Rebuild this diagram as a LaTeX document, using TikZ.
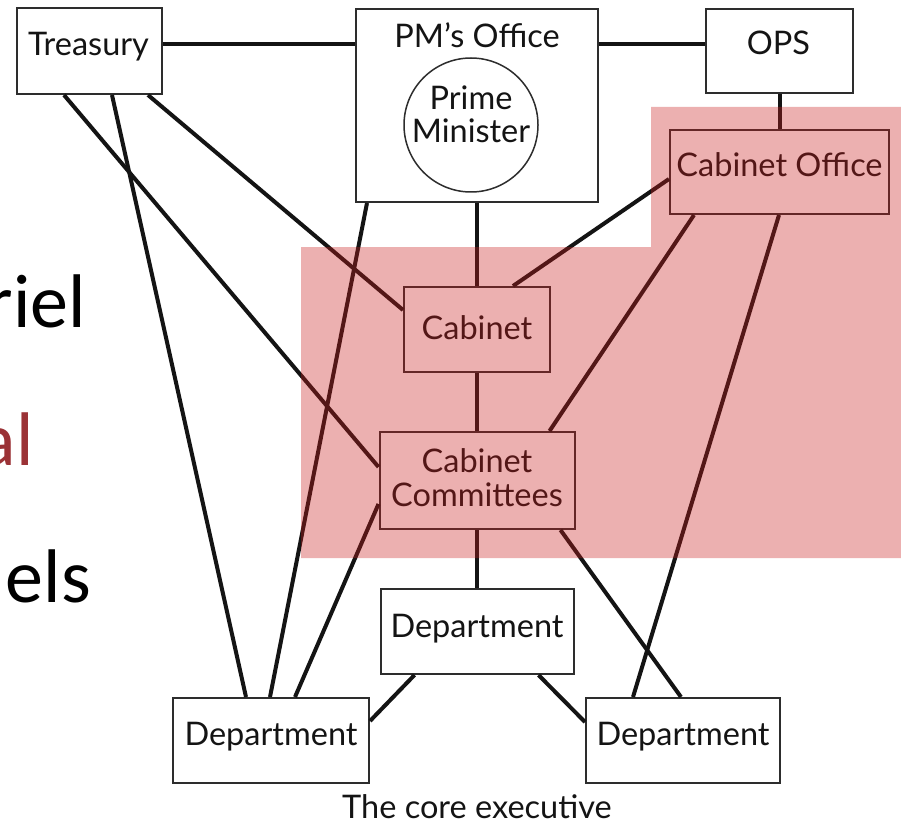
\documentclass[tikz,border=0pt]{standalone}
\usepackage{fontspec}
\setmainfont{Lato}
\newfontfamily\fragfont{Carlito}
\usetikzlibrary{calc}
\definecolor{inkc}{RGB}{20,20,20}
\definecolor{boxline}{RGB}{45,45,45}
\definecolor{hlred}{RGB}{203,29,29}
\definecolor{slidered}{RGB}{155,50,54}
\tikzset{
  box/.style={draw=boxline, line width=2pt, fill=white, inner sep=0pt},
  lbl/.style={text=inkc, inner sep=0pt, anchor=base, font=\fontsize{32.5}{38}\selectfont},
  conn/.style={draw=black!92, line width=4pt},
  frag/.style={inner sep=0pt, anchor=base east, font=\fragfont\fontsize{76}{80}\selectfont}
}
\begin{document}
\begin{tikzpicture}[x=1pt,y=-1pt]
\useasboundingbox (0,0) rectangle (901,826);
\fill[white] (0,0) rectangle (901,826);
% slide text fragments (cut off at the left edge)
\begin{scope}
\clip (0,0) rectangle (901,826);
\node[frag, text=black] (f1) at (86,327) {riel};
\node[frag, text=slidered] (f2) at (34,465) {al};
\node[frag, text=black] (f3) at (91,602) {els};
\end{scope}
% boxes
\node[box, minimum width=145pt, minimum height=86pt] (treasury) at (89.5,51) {};
\node[box, minimum width=242pt, minimum height=193pt] (pmo) at (477,105.5) {};
\node[box, minimum width=147pt, minimum height=84pt] (ops) at (779.5,51) {};
\node[draw=boxline, line width=1.5pt, circle, fill=white, minimum size=134pt, inner sep=0pt] (pm) at (471,125) {};
\node[box, minimum width=219pt, minimum height=84pt] (cabo) at (779.5,172) {};
\node[box, minimum width=146pt, minimum height=85pt] (cab) at (477,329.5) {};
\node[box, minimum width=195pt, minimum height=97pt] (cc) at (477,480.5) {};
\node[box, minimum width=193pt, minimum height=85pt] (dm) at (477,631.5) {};
\node[box, minimum width=196pt, minimum height=85pt] (dl) at (271,740.5) {};
\node[box, minimum width=194pt, minimum height=85pt] (dr) at (683,740.5) {};
% labels
\node[lbl] (tTreasury) at ($(treasury.center)+(-1,5)$) {Treasury};
\node[lbl] (tPMO) at ($(pmo.center)+(0,-57.5)$) {PM’s Office};
\node[lbl] (tPM) at ($(pm.center)+(0,-15)$) {Prime};
\node[lbl] (tPM2) at ($(pm.center)+(0,18)$) {Minister};
\node[lbl] (tOPS) at ($(ops.center)+(-1,4)$) {OPS};
\node[lbl] (tCabo) at ($(cabo.center)+(0,5)$) {Cabinet Office};
\node[lbl] (tCab) at ($(cab.center)+(0,9.5)$) {Cabinet};
\node[lbl] (tCC1) at ($(cc.center)+(0,-8.5)$) {Cabinet};
\node[lbl] (tCC2) at ($(cc.center)+(0,25.5)$) {Committees};
\node[lbl] (tDM) at ($(dm.center)+(0,5.5)$) {Department};
\node[lbl] (tDL) at ($(dl.center)+(0,4.5)$) {Department};
\node[lbl] (tDR) at ($(dr.center)+(0,4.5)$) {Department};
\node[lbl] (caption) at (477,818) {The core executive};
% connectors
\draw[conn] ($(treasury.north east)+(0,37)$) -- ($(pmo.north west)+(0,36)$);
\draw[conn] ($(pmo.north east)+(0,36)$) -- ($(ops.north west)+(0,36)$);
\draw[conn] (ops.south) -- (cabo.north);
\draw[conn] ($(treasury.south west)+(48,0)$) -- ($(cc.north west)+(0,36)$);
\draw[conn] ($(treasury.south west)+(96,0)$) -- ($(dl.north west)+(74,0)$);
\draw[conn] ($(treasury.south west)+(132,0)$) -- ($(cab.north west)+(0,24)$);
\draw[conn] ($(pmo.south west)+(12,0)$) -- ($(dl.north west)+(98,0)$);
\draw[conn] (pmo.south) -- (cab.north);
\draw[conn] ($(cabo.north west)+(0,50)$) -- ($(cab.north west)+(110,0)$);
\draw[conn] (cab.south) -- (cc.north);
\draw[conn] ($(cabo.south west)+(25,0)$) -- ($(cc.north west)+(171,0)$);
\draw[conn] ($(cabo.south west)+(110,0)$) -- ($(dr.north west)+(48,0)$);
\draw[conn] ($(cc.north west)+(0,73)$) -- ($(dl.north west)+(123,0)$);
\draw[conn] (cc.south) -- (dm.north);
\draw[conn] ($(cc.south west)+(182,0)$) -- ($(dr.north west)+(96,0)$);
\draw[conn] ($(dm.south west)+(35,0)$) -- ($(dl.north east)+(0,24)$);
\draw[conn] ($(dm.south west)+(159,0)$) -- ($(dr.north west)+(0,25)$);
% highlight region
\fill[hlred, fill opacity=0.35] (301,247) -- (651,247) -- (651,107) -- (901,107) -- (901,558) -- (301,558) -- cycle;
\end{tikzpicture}
\end{document}
